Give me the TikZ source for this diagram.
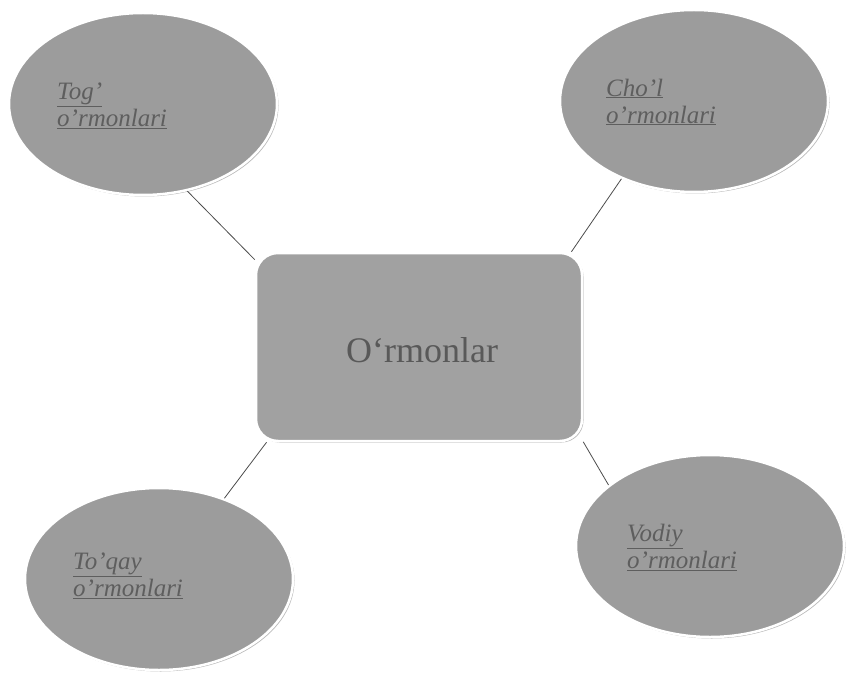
\documentclass[tikz,border=0pt]{standalone}
\usepackage{fontspec}
\setmainfont{Liberation Serif}
\usetikzlibrary{shapes.geometric,shadows}
\definecolor{patch}{HTML}{9C9C9C}
\definecolor{ink}{HTML}{5E5E5E}

\begin{document}
\begin{tikzpicture}[x=1pt,y=-1pt,
  forest/.style={ellipse,minimum width=268pt,minimum height=182pt,fill=patch,draw=white,line width=2.5pt,
    drop shadow={shadow xshift=1.5pt,shadow yshift=-1.5pt,fill=black!45,opacity=0.6}},
  hub/.style={rectangle,rounded corners=22pt,minimum width=326pt,minimum height=188pt,fill=patch!95!white,draw=white,line width=2.5pt,
    drop shadow={shadow xshift=1.5pt,shadow yshift=-1.5pt,fill=black!45,opacity=0.6}},
  tag/.style={anchor=west,inner sep=0pt,align=left,text=ink,font=\fontsize{25}{27}\selectfont\itshape},
  link/.style={draw=black!70,line width=0.8pt}]
  \useasboundingbox (0,0) rectangle (850,676);
  \node[hub] (ormon) at (419,347) {};
  \node[inner sep=0pt,text=black!65,font=\fontsize{36}{40}\selectfont] (ormontext) at (422,350) {O`rmonlar};
  \node[forest] (tog) at (143,104) {};
  \node[forest] (chol) at (694,101) {};
  \node[forest] (toqay) at (159,579) {};
  \node[forest] (vodiy) at (710,546) {};
  \node[tag] (togtext) at (57,106) {\underline{Tog'}\\\underline{o'rmonlari}};
  \node[tag] (choltext) at (606,102) {\underline{Cho'l}\\\underline{o'rmonlari}};
  \node[tag] (toqaytext) at (73,576) {\underline{To'qay}\\\underline{o'rmonlari}};
  \node[tag] (vodiytext) at (627,547) {\underline{Vodiy}\\\underline{o'rmonlari}};
  \draw[link] (tog.-63) -- (ormon.152);
  \draw[link] (chol.-133) -- (ormon.32);
  \draw[link] (toqay.51) -- (ormon.212);
  \draw[link] (vodiy.149) -- (ormon.-30);
\end{tikzpicture}
\end{document}
